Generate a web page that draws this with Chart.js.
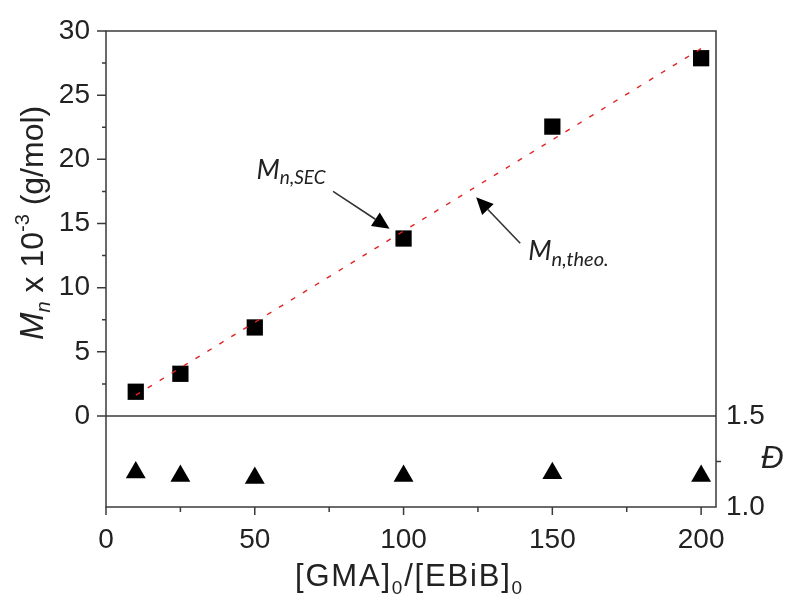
<!DOCTYPE html>
<html><head><meta charset="utf-8">
<script src="https://cdn.jsdelivr.net/npm/chart.js@4/dist/chart.umd.min.js"></script>
<style>html,body{margin:0;padding:0;background:#fff}#wrap{width:791px;height:599px;position:relative}</style>
</head><body><div id="wrap"><canvas id="c"></canvas></div>
<script>
// ---- data ----
const ratios = [10, 25, 50, 100, 150, 200];           // [GMA]0/[EBiB]0
const mnSEC = [1.89, 3.29, 6.9, 13.83, 22.55, 27.88];   // Mn,SEC x 1e-3
const mnTheo = [1.62, 3.75, 7.30, 14.41, 21.52, 28.63]; // Mn,theo x 1e-3
const dispersity = [1.19, 1.17, 1.16, 1.17, 1.185, 1.17];
const xTicks = [0, 50, 100, 150, 200];
const xMinorTicks = [25, 75, 125, 175];
const yTicks = [0, 5, 10, 15, 20, 25, 30];
const yMinorTicks = [2.5, 7.5, 12.5, 17.5, 22.5, 27.5];
const dTicks = [1.0, 1.5];
const dMinorTicks = [1.25];
// annotation anchors in data units [x, y]
const secLabel = [50.6, 18.5], secArrow = [[76.3, 17.5], [95.3, 14.6]];
const theoLabel = [141.9, 12.15], theoArrow = [[139.2, 13.46], [124.4, 17.05]];

// panel split (bottom panel occupies 91 of 476 px)
const topFrac = 385 / 476;
const yMin = -30 * (1 - topFrac) / topFrac;
const dMax = 1.5 + 0.5 * topFrac / (1 - topFrac);

const AX = '"Liberation Sans", Arial, sans-serif';
const AN = 'Lato, "Open Sans", sans-serif';
const INK = '#222';
const FRAME = '#3a3a3a';

function runs(ctx, list, x, y) {
  let cx = x;
  for (const r of list) {
    ctx.font = r.font;
    ctx.fillText(r.text, cx, y + (r.dy || 0));
    cx += ctx.measureText(r.text).width;
  }
}

function arrow(ctx, x1, y1, x2, y2) {
  const a = Math.atan2(y2 - y1, x2 - x1);
  const L = 17, W = 8;
  const bx = x2 - L * Math.cos(a), by = y2 - L * Math.sin(a);
  ctx.strokeStyle = '#333'; ctx.lineWidth = 1.6;
  ctx.beginPath(); ctx.moveTo(x1, y1); ctx.lineTo(bx, by); ctx.stroke();
  ctx.fillStyle = '#000';
  ctx.beginPath();
  ctx.moveTo(x2, y2);
  ctx.lineTo(bx + W * Math.sin(a), by - W * Math.cos(a));
  ctx.lineTo(bx - W * Math.sin(a), by + W * Math.cos(a));
  ctx.closePath(); ctx.fill();
}

const framePlugin = {
  id: 'frame',
  afterDatasetsDraw(chart) {
    const {ctx, chartArea: a, scales} = chart;
    const xs = scales.x, ys = scales.y, ds = scales.y2;
    const y0 = ys.getPixelForValue(0);
    ctx.save();
    ctx.strokeStyle = FRAME; ctx.lineWidth = 1.5;
    ctx.strokeRect(a.left, a.top, a.right - a.left, a.bottom - a.top);
    ctx.beginPath(); ctx.moveTo(a.left, y0); ctx.lineTo(a.right, y0); ctx.stroke();
    ctx.beginPath();
    for (const v of yTicks) { const p = ys.getPixelForValue(v); ctx.moveTo(a.left, p); ctx.lineTo(a.left - 9, p); }
    for (const v of yMinorTicks) { const p = ys.getPixelForValue(v); ctx.moveTo(a.left, p); ctx.lineTo(a.left - 4, p); }
    for (const v of xTicks) { const p = xs.getPixelForValue(v); ctx.moveTo(p, a.bottom); ctx.lineTo(p, a.bottom + 8); }
    for (const v of xMinorTicks) { const p = xs.getPixelForValue(v); ctx.moveTo(p, a.bottom); ctx.lineTo(p, a.bottom + 5); }
    for (const v of dMinorTicks) { const p = ds.getPixelForValue(v); ctx.moveTo(a.right, p); ctx.lineTo(a.right + 5, p); }
    ctx.stroke();
    ctx.restore();
  },
  afterDraw(chart) {
    const {ctx, chartArea: a, scales} = chart;
    const xs = scales.x, ys = scales.y;
    const P = (d) => [xs.getPixelForValue(d[0]), ys.getPixelForValue(d[1])];
    ctx.save();
    ctx.fillStyle = INK;
    ctx.textBaseline = 'alphabetic';
    ctx.textAlign = 'left';
    // y title
    ctx.save();
    ctx.translate(43, 340);
    ctx.rotate(-Math.PI / 2);
    runs(ctx, [
      {text: 'M', font: `italic 33px ${AX}`},
      {text: 'n', font: `italic 20px ${AX}`, dy: 7},
      {text: ' x 10', font: `32px ${AX}`},
      {text: '-3', font: `20px ${AX}`, dy: -14},
      {text: ' (g/mol)', font: `32px ${AX}`}
    ], 0, 0);
    ctx.restore();
    // x title
    ctx.letterSpacing = '1.8px';
    runs(ctx, [
      {text: '[GMA]', font: `31px ${AX}`},
      {text: '0', font: `19px ${AX}`, dy: 8},
      {text: '/[EBiB]', font: `31px ${AX}`},
      {text: '0', font: `19px ${AX}`, dy: 8}
    ], 295, 586);
    ctx.letterSpacing = '0px';
    // D label
    ctx.font = `italic 31px ${AX}`;
    ctx.fillText('\u0110', 761, 468);
    // annotations
    const s = P(secLabel);
    runs(ctx, [
      {text: 'M', font: `italic 27px ${AN}`},
      {text: 'n,SEC', font: `italic 19px ${AN}`, dy: 5}
    ], s[0], s[1]);
    const t = P(theoLabel);
    runs(ctx, [
      {text: 'M', font: `italic 27px ${AN}`},
      {text: 'n,theo.', font: `italic 20px ${AN}`, dy: 6}
    ], t[0], t[1]);
    const a1 = P(secArrow[0]), a2 = P(secArrow[1]);
    arrow(ctx, a1[0], a1[1], a2[0], a2[1]);
    const b1 = P(theoArrow[0]), b2 = P(theoArrow[1]);
    arrow(ctx, b1[0], b1[1], b2[0], b2[1]);
    ctx.restore();
  }
};

const toPts = (xsArr, ysArr) => xsArr.map((x, i) => ({x, y: ysArr[i]}));

new Chart(document.getElementById('c'), {
  type: 'scatter',
  data: {
    datasets: [
      {
        label: 'Mn,theo.', data: toPts(ratios, mnTheo), yAxisID: 'y', showLine: true,
        borderColor: 'rgb(225,35,35)', borderWidth: 1.4, borderDash: [5, 9],
        pointRadius: 0, order: 0
      },
      {
        label: 'Mn,SEC', data: toPts(ratios, mnSEC), yAxisID: 'y',
        pointStyle: 'rect', pointRadius: 11.5, backgroundColor: '#000', borderColor: '#000',
        borderWidth: 0, order: 1
      },
      {
        label: 'D', data: toPts(ratios, dispersity), yAxisID: 'y2',
        pointStyle: 'triangle', pointRadius: 11.5, backgroundColor: '#000', borderColor: '#000',
        borderWidth: 0, order: 2
      }
    ]
  },
  options: {
    responsive: true, maintainAspectRatio: false, animation: false,
    layout: {padding: {top: 31, left: 0, right: 0, bottom: 0}},
    plugins: {legend: {display: false}, tooltip: {enabled: false}},
    scales: {
      x: {
        type: 'linear', position: 'bottom', min: 0, max: 205,
        grid: {display: false, drawTicks: false}, border: {display: false},
        afterBuildTicks: (sc) => { sc.ticks = xTicks.map(v => ({value: v})); },
        afterFit: (sc) => { sc.height = 92; },
        ticks: {font: {size: 28, family: AX}, color: INK, padding: 16, maxRotation: 0,
          callback: (v) => String(v)}
      },
      y: {
        type: 'linear', position: 'left', min: yMin, max: 30,
        grid: {display: false, drawTicks: false}, border: {display: false},
        afterBuildTicks: (sc) => { sc.ticks = yTicks.map(v => ({value: v})); },
        afterFit: (sc) => { sc.width = 106; },
        ticks: {font: {size: 28, family: AX, lineHeight: 1}, color: INK, padding: 16, callback: (v) => String(v)}
      },
      y2: {
        type: 'linear', position: 'right', min: 1.0, max: dMax,
        grid: {display: false, drawTicks: false}, border: {display: false},
        afterBuildTicks: (sc) => { sc.ticks = dTicks.map(v => ({value: v})); },
        afterFit: (sc) => { sc.width = 75; },
        ticks: {font: {size: 28, family: AX, lineHeight: 1}, color: INK, padding: 10, callback: (v) => v.toFixed(1)}
      }
    }
  },
  plugins: [framePlugin]
});
</script></body></html>
